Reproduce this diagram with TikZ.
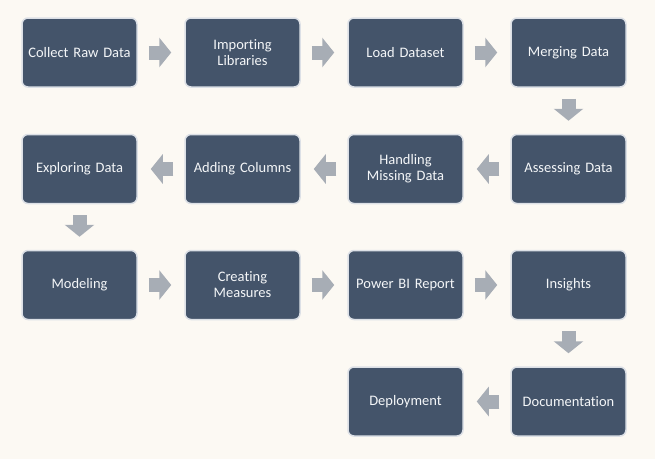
\documentclass[tikz,border=0pt]{standalone}
\usepackage{fontspec}
\setmainfont{Carlito}[Ligatures=NoCommon]
\usetikzlibrary{arrows.meta}
\definecolor{bg}{HTML}{FCF9F3}
\definecolor{boxfill}{HTML}{44546A}
\definecolor{boxedge}{HTML}{DCE0E6}
\definecolor{arrowgray}{HTML}{A7ADB5}
\definecolor{boxtext}{HTML}{F4F6F8}
\tikzset{
  stepbox/.style={draw=boxedge, line width=1.5pt, fill=boxfill, rounded corners=6pt,
    minimum width=115pt, minimum height=69pt, inner sep=2pt,
    text=boxtext, align=center, font=\fontsize{14.5}{16}\selectfont, text width=110pt},
  flow/.style={draw=arrowgray, line width=14pt, shorten <=11pt, shorten >=13pt,
    -{Triangle[width=29pt,length=12pt]}},
}
\begin{document}
\begin{tikzpicture}[x=1pt,y=-1pt]
\fill[bg] (0,0) rectangle (655,459);
\useasboundingbox (0,0) rectangle (655,459);
% row 1
\node[stepbox] (n1) at (79.5,52.5) {Collect Raw Data};
\node[stepbox] (n2) at (242.5,52.5) {Importing\\Libraries};
\node[stepbox] (n3) at (405.5,52.5) {Load Dataset};
\node[stepbox] (n4) at (568.5,52.5) {Merging Data};
% row 2
\node[stepbox] (n5) at (568.5,169) {Assessing Data};
\node[stepbox] (n6) at (405.5,169) {Handling\\Missing Data};
\node[stepbox] (n7) at (242.5,169) {Adding Columns};
\node[stepbox] (n8) at (79.5,169) {Exploring Data};
% row 3
\node[stepbox] (n9) at (79.5,285) {Modeling};
\node[stepbox] (n10) at (242.5,285) {Creating\\Measures};
\node[stepbox] (n11) at (405.5,285) {Power BI Report};
\node[stepbox] (n12) at (568.5,285) {Insights};
% row 4
\node[stepbox] (n13) at (568.5,401.5) {Documentation};
\node[stepbox] (n14) at (405.5,401.5) {Deployment};
% connectors
\draw[flow] (n1) -- (n2);
\draw[flow] (n2) -- (n3);
\draw[flow] (n3) -- (n4);
\draw[flow] (n4) -- (n5);
\draw[flow] (n5) -- (n6);
\draw[flow] (n6) -- (n7);
\draw[flow] (n7) -- (n8);
\draw[flow] (n8) -- (n9);
\draw[flow] (n9) -- (n10);
\draw[flow] (n10) -- (n11);
\draw[flow] (n11) -- (n12);
\draw[flow] (n12) -- (n13);
\draw[flow] (n13) -- (n14);
\end{tikzpicture}
\end{document}
